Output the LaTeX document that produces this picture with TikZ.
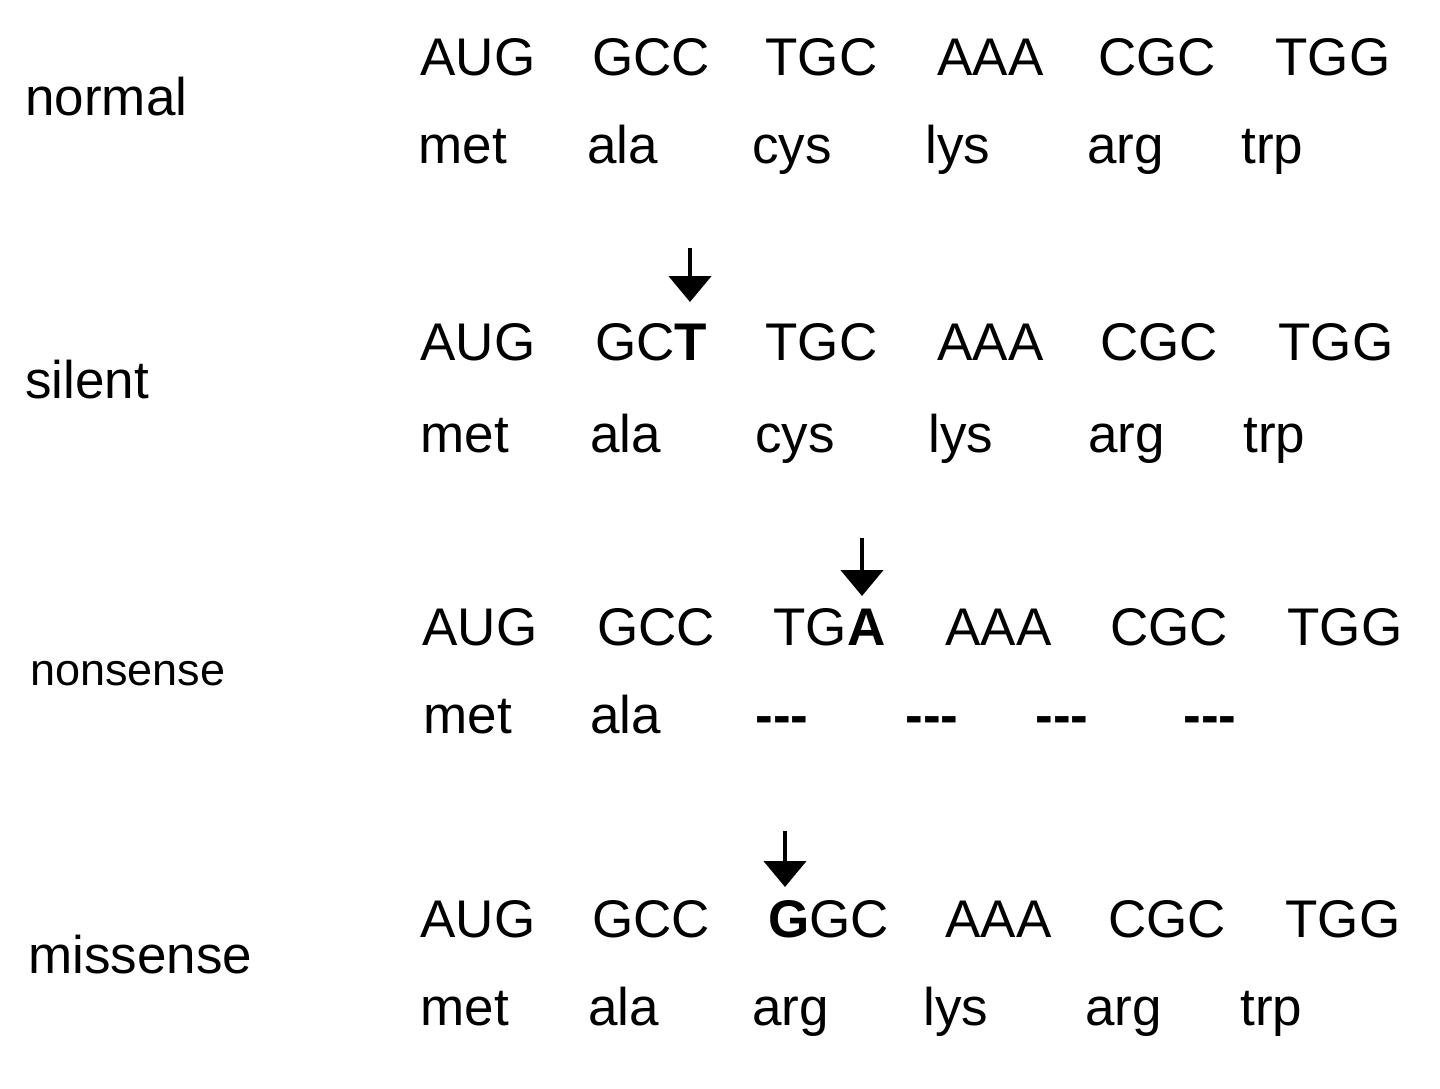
\documentclass[tikz,border=0pt]{standalone}
\usepackage{fontspec}
\setmainfont{Liberation Sans}
\usetikzlibrary{arrows.meta}
\newcommand{\stopdash}{\textbf{-\kern0pt-\kern0pt-}}
\begin{document}
\begin{tikzpicture}[x=0.5pt,y=-0.5pt,
  txt/.style={anchor=base west,inner sep=0pt,font=\fontsize{26.5}{30}\selectfont},
  lbl/.style={txt},
  smalllbl/.style={anchor=base west,inner sep=0pt,font=\fontsize{22.5}{26}\selectfont},
  mutarrow/.style={line width=2.4pt,-{Triangle[width=21pt,length=13pt]}}]
\useasboundingbox[fill=white] (0,0) rectangle (1440,1088);
% row 1: normal
\node[lbl] (l1) at (25,115) {normal};
\node[txt] (c11) at (420,75) {AUG};
\node[txt] (c12) at (592,75) {GCC};
\node[txt] (c13) at (765,75) {TGC};
\node[txt] (c14) at (937,75) {AAA};
\node[txt] (c15) at (1098,75) {CGC};
\node[txt] (c16) at (1275,75) {TGG};
\node[txt] (p11) at (418,163) {met};
\node[txt] (p12) at (587,163) {ala};
\node[txt] (p13) at (752,163) {cys};
\node[txt] (p14) at (925,163) {lys};
\node[txt] (p15) at (1087,163) {arg};
\node[txt] (p16) at (1241,163) {trp};
% row 2: silent
\node[lbl] (l2) at (25,398) {silent};
\node[txt] (c21) at (420,360) {AUG};
\node[txt] (c22) at (595,360) {GC\textbf{T}};
\node[txt] (c23) at (765,360) {TGC};
\node[txt] (c24) at (937,360) {AAA};
\node[txt] (c25) at (1100,360) {CGC};
\node[txt] (c26) at (1278,360) {TGG};
\node[txt] (p21) at (420,452) {met};
\node[txt] (p22) at (590,452) {ala};
\node[txt] (p23) at (755,452) {cys};
\node[txt] (p24) at (928,452) {lys};
\node[txt] (p25) at (1088,452) {arg};
\node[txt] (p26) at (1243,452) {trp};
\coordinate (a2s) at (690,248);
\coordinate (a2e) at (690,302);
\draw[mutarrow] (a2s) -- (a2e);
% row 3: nonsense
\node[smalllbl] (l3) at (30,685) {nonsense};
\node[txt] (c31) at (422,645) {AUG};
\node[txt] (c32) at (597,645) {GCC};
\node[txt] (c33) at (773,645) {TG\textbf{A}};
\node[txt] (c34) at (945,645) {AAA};
\node[txt] (c35) at (1110,645) {CGC};
\node[txt] (c36) at (1287,645) {TGG};
\node[txt] (p31) at (423,733) {met};
\node[txt] (p32) at (590,733) {ala};
\node[txt] (p33) at (755,733) {\stopdash};
\node[txt] (p34) at (905,733) {\stopdash};
\node[txt] (p35) at (1035,733) {\stopdash};
\node[txt] (p36) at (1183,733) {\stopdash};
\coordinate (a3s) at (862,538);
\coordinate (a3e) at (862,596);
\draw[mutarrow] (a3s) -- (a3e);
% row 4: missense
\node[lbl] (l4) at (28,973) {missense};
\node[txt] (c41) at (420,937) {AUG};
\node[txt] (c42) at (592,937) {GCC};
\node[txt] (c43) at (768,937) {\textbf{G}GC};
\node[txt] (c44) at (945,937) {AAA};
\node[txt] (c45) at (1108,937) {CGC};
\node[txt] (c46) at (1285,937) {TGG};
\node[txt] (p41) at (420,1025) {met};
\node[txt] (p42) at (588,1025) {ala};
\node[txt] (p43) at (752,1025) {arg};
\node[txt] (p44) at (923,1025) {lys};
\node[txt] (p45) at (1085,1025) {arg};
\node[txt] (p46) at (1240,1025) {trp};
\coordinate (a4s) at (785,831);
\coordinate (a4e) at (785,887);
\draw[mutarrow] (a4s) -- (a4e);
\end{tikzpicture}
\end{document}
